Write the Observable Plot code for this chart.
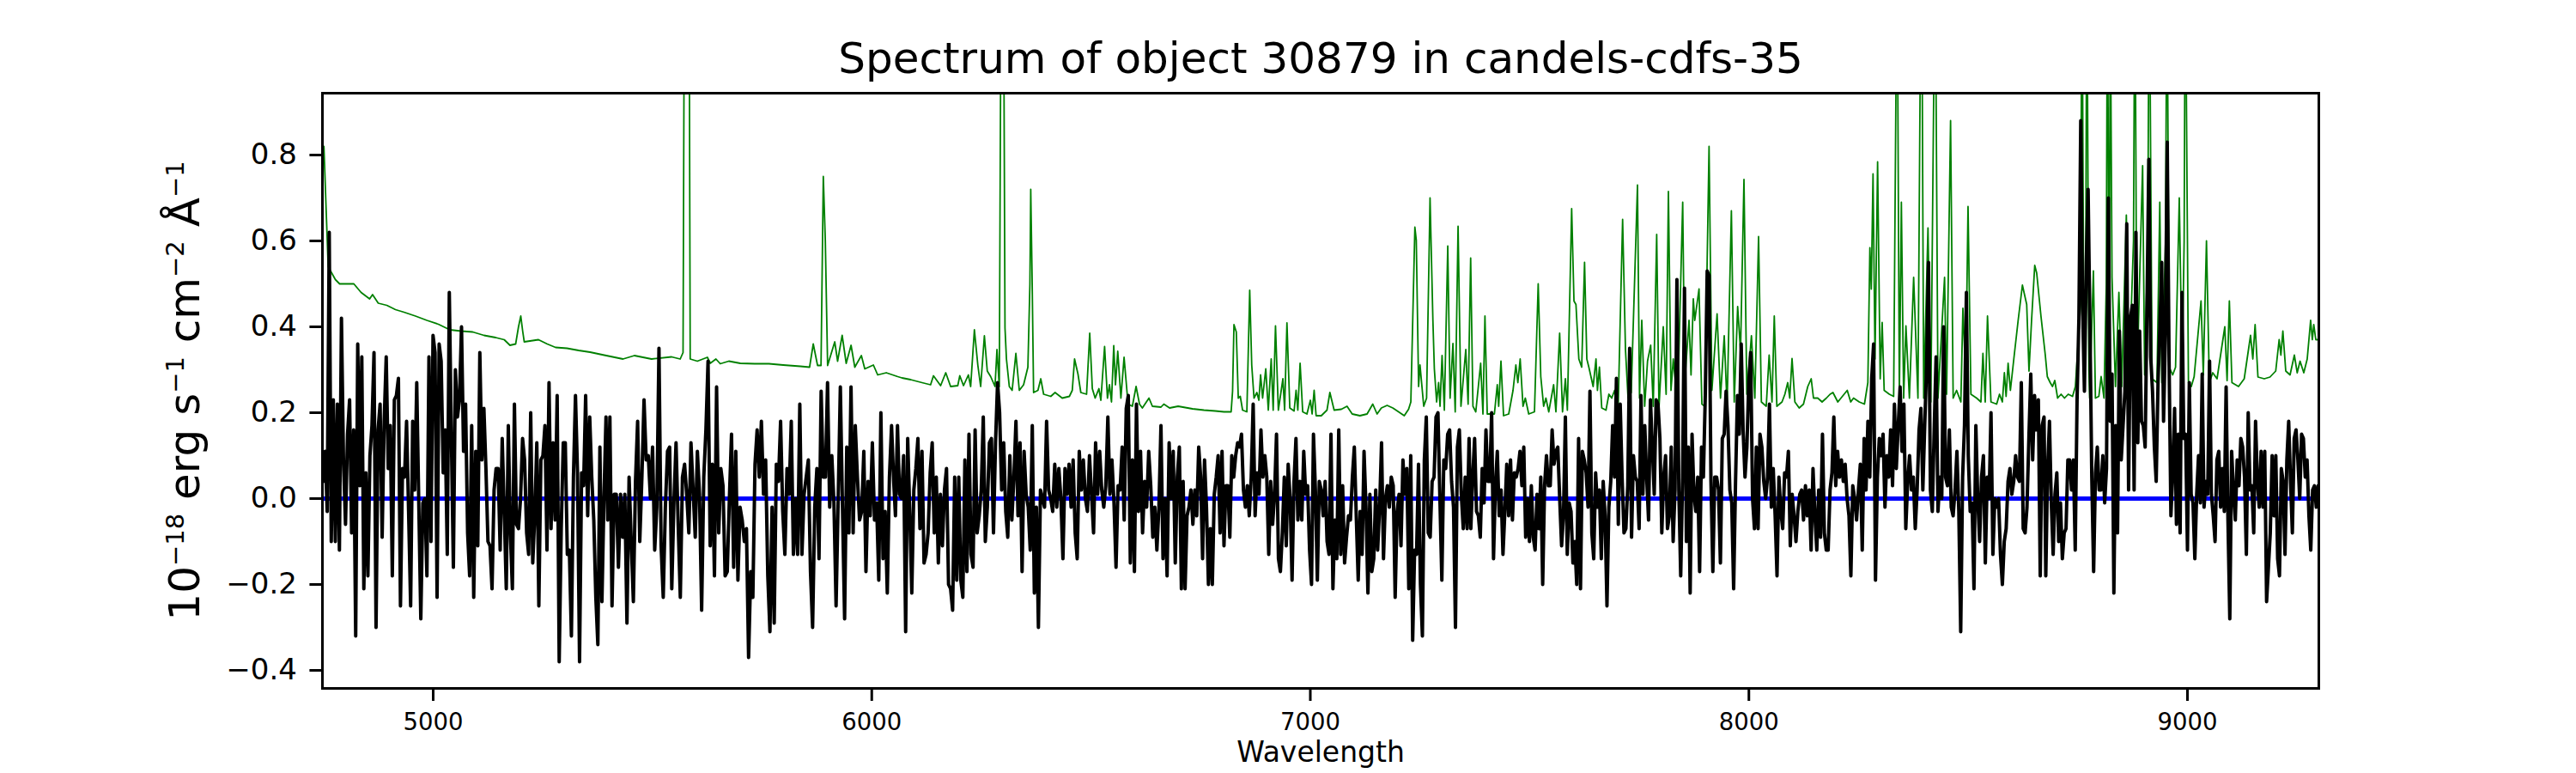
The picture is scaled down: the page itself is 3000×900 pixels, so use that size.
<!DOCTYPE html>
<html>
<head>
<meta charset="utf-8">
<script src="https://cdn.jsdelivr.net/npm/d3@7"></script>
<script src="https://cdn.jsdelivr.net/npm/@observablehq/plot@0.6"></script>
<style>
  html, body { margin: 0; padding: 0; background: white; }
  #chart { width: 3000px; height: 900px; }
</style>
</head>
<body>
<div id="chart"></div>
<script>
// ---------------- DATA ----------------
const titleText = "Spectrum of object 30879 in candels-cdfs-35";
const xLabelText = "Wavelength";
const xTicks = [5000, 6000, 7000, 8000, 9000];
const yTicks = [-0.4, -0.2, 0, 0.2, 0.4, 0.6, 0.8];

// Observed flux (black), in consecutive wavelength segments, evenly sampled within each
const segStart = [4749, 5398, 6054, 6710, 7366, 8021, 8677];
const segEnd   = [5394, 6050, 6706, 7362, 8017, 8673, 9298];

const fluxA = [0.04,0.11,-0.03,0.62,-0.10,0.23,-0.10,0.22,-0.12,0.42,
0.09,-0.06,0.15,0.23,-0.08,0.16,-0.32,0.36,0.03,0.33,
-0.21,0.06,-0.18,0.10,0.17,0.34,-0.30,0.16,0.22,-0.09,
0.18,0.33,0.07,0.17,-0.18,0.23,0.24,0.28,-0.25,0.07,
0.05,0.18,-0.03,-0.25,0.18,0.02,0.27,-0.01,-0.28,-0.01,
0.00,-0.18,0.33,-0.10,0.38,0.34,-0.23,0.36,0.32,0.06,
0.16,-0.13,0.48,0.15,-0.16,0.30,0.19,0.23,0.40,0.11,
0.22,-0.08,-0.18,0.17,-0.23,0.11,-0.11,0.34,0.09,0.21,
0.07,-0.10,-0.11,-0.21,0.02,0.07,0.07,-0.12,0.14,-0.03,
-0.21,0.17,-0.08,-0.21,0.22,-0.06,-0.07,0.00,0.14,0.09,
-0.08,-0.13,0.20,-0.15,-0.04,0.13,-0.25,0.09,0.10,0.17,
-0.12,0.27,-0.07,0.13,-0.05,0.24,-0.38,-0.07,0.13,0.13,
-0.13,-0.12,-0.32,0.05,0.24,0.06,-0.38,0.06,0.03,0.24,
-0.04,0.19,0.05,-0.05,-0.23,-0.34,0.12,-0.24,0.00,0.19];

const fluxB = [-0.05,0.19,-0.25,0.01,0.01,-0.16,0.01,-0.09,0.01,-0.29,
0.05,-0.10,-0.24,0.04,0.18,-0.10,0.05,0.23,0.09,0.10,
0.00,0.12,-0.12,-0.02,0.35,-0.11,-0.23,-0.02,0.11,0.12,
-0.21,-0.01,0.13,-0.06,-0.23,0.05,0.08,0.01,-0.08,0.13,
0.02,-0.09,0.11,0.01,-0.26,0.05,0.16,0.32,-0.11,0.08,
-0.18,0.26,-0.08,0.07,0.03,-0.18,-0.17,0.00,0.15,-0.16,
0.11,-0.19,-0.02,-0.05,-0.10,-0.07,-0.37,-0.17,-0.23,0.08,
0.16,0.05,0.18,0.01,0.09,-0.18,-0.31,-0.02,-0.29,0.08,
0.04,0.18,-0.03,-0.13,0.07,0.01,0.18,-0.13,0.00,-0.13,
0.22,-0.13,0.01,0.05,0.09,-0.17,-0.30,-0.02,0.07,-0.14,
0.25,0.05,0.05,0.27,-0.02,0.10,-0.01,-0.25,0.00,0.26,
-0.02,-0.28,0.12,-0.08,0.26,-0.08,0.17,0.05,-0.05,-0.03,
0.11,-0.17,0.04,-0.04,0.13,-0.05,-0.01,-0.19,0.20,-0.14,
-0.03,-0.22,0.05,0.17,0.04];

const fluxC = [-0.04,0.17,0.01,0.00,0.10,-0.31,0.14,-0.03,-0.22,0.02,
0.07,0.14,-0.07,0.11,-0.15,-0.13,-0.08,0.06,0.13,-0.08,
0.05,-0.15,0.01,-0.11,0.02,0.07,-0.20,-0.21,-0.26,0.05,
-0.19,0.05,-0.19,-0.23,0.09,-0.17,0.15,-0.13,-0.16,0.16,
-0.08,-0.04,0.02,0.19,-0.10,-0.02,0.13,0.14,-0.08,0.13,
0.27,0.20,0.02,0.13,-0.03,-0.09,0.10,-0.05,0.05,0.18,
-0.04,0.13,-0.17,0.11,0.01,-0.02,-0.12,0.17,-0.22,-0.02,
-0.30,0.02,0.00,-0.02,0.18,0.02,0.00,-0.03,0.08,-0.02,
0.07,0.00,-0.14,0.07,0.01,0.08,-0.02,0.09,-0.08,-0.14,
0.11,0.02,0.09,0.00,-0.03,0.10,0.01,-0.08,0.13,0.01,
0.11,0.02,-0.02,0.03,0.19,0.01,0.09,-0.01,-0.16,0.03,
0.02,0.12,-0.05,0.21,0.24,-0.15,0.09,-0.17,0.22,-0.03,
0.11,-0.08,0.04,-0.02,0.11,0.03,-0.09,-0.02,-0.12,-0.02,
0.17,-0.14,0.00,-0.18,0.13,0.00,0.11,-0.15,0.05,0.12,
-0.21];

const fluxD = [0.04,-0.21,-0.04,-0.02,0.02,-0.06,0.02,-0.04,0.12,0.05,
-0.14,0.09,-0.02,-0.20,-0.07,-0.20,0.01,0.05,0.10,-0.08,
0.11,-0.11,0.03,0.03,-0.09,0.10,0.05,0.10,0.13,0.12,
0.15,0.02,-0.02,0.03,-0.04,0.05,0.22,-0.04,0.06,0.01,
0.16,0.05,0.10,0.05,-0.13,0.04,-0.06,0.01,0.15,-0.14,
-0.17,-0.08,0.05,-0.11,0.08,0.00,-0.19,0.04,0.14,-0.05,
0.04,-0.05,0.11,0.01,0.03,-0.12,-0.20,0.15,0.02,-0.19,
0.04,0.02,-0.04,0.04,-0.10,-0.13,0.15,-0.21,-0.05,-0.14,
0.16,-0.13,0.03,-0.15,-0.09,-0.04,-0.05,0.05,0.12,-0.04,
-0.19,-0.03,-0.13,0.11,-0.02,-0.22,0.01,-0.17,-0.14,0.02,
-0.12,-0.02,0.13,-0.14,0.00,0.03,-0.02,0.05,0.03,-0.23,
-0.03,0.01,-0.11,0.09,0.01,0.07,-0.21,0.10,-0.33,-0.12,
-0.13,0.08,-0.20,-0.32,0.09,0.19,-0.08,-0.09,0.04,0.05,
0.19,0.20,0.00,-0.19,0.09,0.07,0.15,0.16,0.04,-0.02,
-0.30,0.12,0.16,0.01,-0.07,0.05,-0.07,0.14];

const fluxE = [-0.07,0.05,0.14,-0.03,-0.04,-0.09,0.07,-0.01,0.16,0.04,
0.04,0.20,-0.14,0.03,0.11,-0.04,0.02,-0.13,-0.03,0.08,
-0.04,0.09,-0.05,0.06,0.05,0.07,0.11,0.03,0.12,-0.09,
0.00,-0.10,0.03,-0.09,-0.12,0.01,-0.07,0.05,-0.20,0.03,
0.10,0.03,0.03,0.16,0.08,0.11,0.12,0.00,-0.11,-0.04,
0.19,-0.13,-0.01,-0.03,-0.15,-0.10,-0.20,0.14,-0.21,0.11,
0.09,0.06,-0.02,0.25,-0.08,-0.14,0.06,-0.02,0.02,-0.14,
0.04,-0.04,-0.25,-0.02,0.04,0.17,0.05,0.28,-0.06,0.22,
0.05,-0.08,-0.07,0.03,0.35,-0.09,0.10,0.05,0.04,-0.07,
0.24,0.01,0.17,0.05,-0.05,0.23,0.12,0.01,0.23,0.22,
0.14,-0.08,0.05,0.10,-0.07,-0.04,0.12,-0.10,0.02,0.51,
0.02,-0.18,0.05,0.49,-0.10,0.12,-0.22,0.15,0.01,-0.03,
0.05,-0.17,0.12,0.05,0.24,0.53,0.52,0.04,-0.17,0.05,
0.05,0.02,-0.15,0.14,0.15,0.25,0.17,0.02,-0.01,-0.21,
0.04,0.24,0.15,0.36,0.16,0.05,0.12,0.27,0.34,0.00,
-0.07,0.12];

const fluxF = [-0.07,0.15,0.12,0.04,0.00,0.05,0.22,-0.02,0.07,-0.04,
-0.18,0.05,-0.03,-0.07,0.06,0.05,0.11,-0.11,0.01,-0.04,
-0.10,-0.03,0.01,0.02,-0.05,0.03,-0.04,0.02,-0.12,0.07,
-0.04,-0.12,0.02,-0.09,0.15,-0.08,-0.12,-0.12,0.02,0.06,
0.19,0.03,0.11,0.05,0.09,0.04,0.08,0.00,-0.04,-0.18,
0.03,0.00,-0.05,0.02,0.08,-0.12,0.14,0.02,0.18,0.05,
0.28,0.36,-0.19,0.05,0.14,0.10,0.15,-0.02,0.10,0.05,
0.16,0.03,0.22,0.07,0.17,0.26,0.11,0.22,-0.07,0.04,
0.10,0.02,0.05,-0.07,0.02,0.16,0.21,0.02,0.17,0.31,
0.55,0.02,-0.03,0.16,0.33,-0.03,0.05,0.00,0.40,0.05,
0.03,0.16,-0.02,-0.04,0.02,0.11,-0.03,-0.31,0.05,0.17,
0.48,0.10,-0.03,-0.01,-0.21,0.17,0.00,-0.10,0.05,0.10,
-0.15,0.05,0.00,0.20,-0.13,0.00,-0.02,0.00,-0.13,-0.20,
-0.10,-0.07,0.04,0.07,0.01,0.04,0.10,0.05,0.04,0.27,
-0.07,-0.08,-0.02,0.14,0.29,0.09,0.24,0.16,0.23,-0.18,
0.17,0.19];

const fluxG = [-0.18,0.07,0.18,-0.01,-0.13,0.01,0.06,-0.10,-0.01,-0.14,
-0.08,-0.07,0.09,0.09,0.02,0.09,-0.12,0.23,0.42,0.88,
0.45,0.25,0.55,0.72,0.40,0.05,-0.17,0.06,0.12,0.02,
0.02,0.10,-0.01,0.07,0.70,0.18,0.29,-0.22,0.17,-0.08,
0.39,0.09,0.17,0.25,0.64,0.02,0.42,0.45,0.02,0.62,
0.13,0.39,0.18,0.17,0.12,0.45,0.79,0.33,0.25,0.12,
0.04,0.27,0.40,0.55,0.18,0.38,0.83,0.32,-0.04,0.06,
0.21,-0.06,0.15,-0.08,0.48,0.14,0.15,-0.12,0.27,0.01,
-0.01,-0.14,0.01,0.10,-0.01,0.29,-0.02,0.04,0.01,0.32,
0.01,-0.04,-0.10,0.09,0.11,-0.02,0.07,-0.03,0.26,-0.05,
-0.28,0.11,0.02,-0.05,0.09,0.03,0.14,0.12,0.05,-0.13,
0.20,0.02,0.03,-0.08,0.18,0.04,-0.02,0.11,-0.02,0.11,
-0.24,-0.16,-0.08,0.10,-0.04,0.10,-0.14,-0.18,0.07,0.04,
-0.13,0.09,0.18,0.04,-0.08,0.14,0.16,0.09,0.00,0.15,
0.14,0.05,0.09,-0.04,-0.12,0.02,0.03,-0.02,0.03];

// Sky / noise spectrum (green)
const skyWave = [4750.8,4760.5,4776.9,4786.6,4803,4819,4835.6,4855,4861.7,4874.7,4894.3,4914,4933.5,4959.6,4985.7,5011.8,5038,5064,5090,5116,5142.3,5161.9,5175,5188,5194.5,5199.7,5204,5207.6,5240,5260,5279,5305,5331.6,5357.7,5390,
5432.7,5458.8,5497.9,5543.6,5563.2,5569.7,5573.6,5578.2,5582.8,5586,5602.3,5625.2,5631.7,5644.7,5654.5,5674.1,5700.2,5732.9,5765.5,5798.1,5837.3,5858.2,5866.6,5876.4,5884.3,5889.5,5894.1,5899.3,5915.6,5922.1,5932.5,5941.7,5952.8,5961.3,5976.3,5984.1,6003.7,6013.5,6033.1,6059.2,
6068.9,6088.5,6114.6,6134.1,6140.7,6157,6168.7,6179.8,6196.1,6200.7,6209.2,6220.3,6225.5,6234,6241.8,6248.3,6256.8,6263.4,6271.2,6281,6285.5,6290.8,6294.7,6297.3,6300.6,6303.8,6307.1,6313.6,6320.1,6328.6,6336.4,6346.2,6356,6360.6,6362.5,6365.8,6369,6378.9,6385.4,6391.9,6408.2,6418,6434.3,6450.6,6457.2,6462.4,6470.2,6476.7,6489.8,6497,6502.9,6509.4,6517.9,6522.4,6530.9,6537.4,6542,6546.6,6551.8,6555.7,6560.9,6568.1,6575.3,6584.4,6594.2,6602.7,6610.5,6617,6632.1,6639.9,6659.5,6666,6679.1,6698.6,
6731.3,6757.4,6783.5,6803.1,6819.4,6822.7,6825.9,6831.2,6835.7,6840.3,6845.5,6855.3,6861.8,6866.4,6871.6,6878.1,6882.7,6886.6,6891.2,6898.4,6904.2,6910.8,6915.3,6920.6,6927.1,6937.5,6941.4,6946.7,6953.2,6963,6967.5,6971.5,6976.7,6982.6,6992.3,7000.2,7004.1,7008.7,7013.2,7025,7038,7044.6,7054.3,7070.7,7083.7,7095.5,7113.1,7129.4,7142.4,7152.2,7162,7175.1,7188.1,7201.2,7214.2,7224,7229.2,7238.4,7241.6,7246.9,7250.1,7258.6,7265.1,7273,7279.5,7282.8,7288,7292.5,7295.8,7300.4,7305.6,7313.4,7318.7,7325.2,7330.4,7336.9,7343.5,7354.5,7359.8,7365.6,
7370.8,7377.3,7388.4,7393.6,7398.2,7403.4,7419.7,7426.3,7429.5,7434.7,7440.6,7452.4,7462.2,7468.7,7473.2,7478.5,7485,7490.2,7498,7511.1,7519.6,7525.5,7532,7537.2,7543.7,7554.8,7560,7568.5,7575.1,7581.6,7586.1,7595.9,7601.2,7605.7,7612.3,7618.8,7625.3,7630.5,7635.1,7644.9,7651.4,7654.7,7659.2,7664.5,7674.2,7680.8,7687.3,7693.8,7701.7,7712.1,7718.6,7724.5,7731.7,7746,7750.6,7755.8,7762.4,7768.9,7776.1,7781.9,7789.8,7795,7804.8,7811.3,7816.5,7822.4,7827.6,7837.4,7849.1,7853.7,7863.5,7868.1,7873.3,7876.6,7886.3,7892.9,7899.4,7909.2,7915.7,7927.5,7935.3,7943.8,7950.3,7960.1,7966.6,7974.4,7981,7988.8,7995.3,8005.8,8013.6,8022.1,
8028.5,8039.6,8046.2,8052.7,8057.9,8063.8,8075.5,8082.1,8088.6,8093.2,8098.4,8104.9,8114.7,8124.5,8134.3,8142.1,8147.3,8157.1,8166.9,8176.7,8185.2,8191.7,8202.8,8224.3,8232.2,8238.7,8251.7,8263.5,8271.3,8275.9,8279.1,8283.1,8287.6,8293.5,8299.4,8303.9,8308.5,8320.3,8330.1,8337.9,8343.1,8347.7,8352.9,8358.1,8366,8375.7,8385.5,8393.4,8398.6,8408.4,8414.9,8424.7,8431.2,8446.2,8450.8,8459.9,8465.8,8473.6,8483.4,8488,8494.5,8499.7,8506.3,8519.3,8529.1,8533.7,8538.9,8544.1,8552,8565,8571.5,8578,8582.6,8586.5,8591.1,8596.3,8604.1,8614,8623.7,8633.5,8638.7,8644.6,8651.8,8656.3,8666.1,8675.9,
8680.5,8687.1,8692.3,8697.5,8704,8711.9,8719.7,8728.2,8738,8744.5,8756.2,8759.5,8764.1,8768,8770.6,8775.2,8777.1,8785.6,8790.2,8798,8803.2,8809.7,8815,8817.6,8821.5,8824.1,8828,8835.9,8843.7,8850.2,8860.7,8866.5,8877,8880.2,8884.8,8897.8,8902.4,8909.6,8912.9,8919.4,8930.5,8937,8941.6,8950.1,8953.3,8958.5,8966.4,8972.9,8981.4,8987.9,8992.5,8995.1,9002.3,9008.8,9015.3,9031,9036.2,9043.4,9049.9,9057.7,9067.5,9085.2,9090.4,9095.6,9101.5,9116.5,9129.5,9143.9,9149.1,9154.3,9160.8,9175.2,9188.2,9201.3,9209.1,9213.1,9217.6,9224.2,9234,9243.8,9250.3,9256.8,9265.3,9273.1,9280.9,9284.8,9288.1,9292.7,9297.9];

const skyFlux = [0.82,0.54,0.51,0.50,0.50,0.50,0.48,0.465,0.475,0.455,0.45,0.44,0.434,0.425,0.415,0.406,0.393,0.39,0.388,0.38,0.375,0.37,0.357,0.36,0.40,0.425,0.39,0.365,0.37,0.36,0.352,0.35,0.345,0.341,0.334,
0.325,0.333,0.325,0.33,0.325,0.34,1.5,1.8,1.5,0.325,0.32,0.329,0.315,0.325,0.314,0.32,0.315,0.314,0.314,0.311,0.308,0.306,0.36,0.31,0.31,0.75,0.60,0.31,0.365,0.32,0.38,0.315,0.357,0.306,0.333,0.302,0.311,0.288,0.293,0.284,
0.281,0.277,0.270,0.265,0.286,0.263,0.293,0.261,0.263,0.286,0.263,0.288,0.261,0.393,0.311,0.261,0.379,0.297,0.284,0.261,0.347,0.261,1.2,2.0,1.2,0.397,0.325,0.261,0.252,0.338,0.252,0.265,0.306,0.5,0.72,0.5,0.247,0.252,0.279,0.243,0.238,0.247,0.234,0.238,0.252,0.325,0.29,0.247,0.243,0.385,0.256,0.234,0.256,0.229,0.354,0.234,0.265,0.225,0.356,0.265,0.343,0.234,0.329,0.220,0.215,0.261,0.220,0.211,0.234,0.215,0.213,0.22,0.211,0.215,
0.209,0.206,0.204,0.202,0.202,0.25,0.405,0.388,0.234,0.238,0.206,0.202,0.485,0.311,0.234,0.247,0.229,0.288,0.234,0.302,0.206,0.325,0.206,0.402,0.206,0.279,0.206,0.409,0.211,0.204,0.252,0.206,0.315,0.202,0.197,0.229,0.197,0.252,0.193,0.193,0.206,0.247,0.206,0.208,0.215,0.197,0.193,0.197,0.220,0.197,0.211,0.217,0.211,0.202,0.193,0.208,0.225,0.632,0.602,0.261,0.311,0.215,0.234,0.70,0.415,0.302,0.225,0.27,0.215,0.333,0.206,0.588,0.234,0.361,0.202,0.634,0.215,0.347,0.22,0.56,
0.215,0.202,0.315,0.197,0.425,0.197,0.197,0.265,0.215,0.32,0.193,0.197,0.252,0.311,0.27,0.325,0.215,0.234,0.197,0.202,0.50,0.284,0.215,0.234,0.202,0.265,0.202,0.385,0.202,0.279,0.206,0.675,0.46,0.452,0.325,0.306,0.55,0.325,0.306,0.261,0.325,0.252,0.306,0.211,0.206,0.243,0.234,0.252,0.202,0.65,0.347,0.234,0.247,0.73,0.234,0.415,0.215,0.32,0.357,0.215,0.615,0.211,0.40,0.243,0.715,0.252,0.325,0.215,0.69,0.27,0.415,0.288,0.465,0.415,0.488,0.220,0.215,0.82,0.252,0.43,0.234,0.379,0.215,0.67,0.225,0.447,0.343,0.743,0.243,0.379,0.234,0.61,
0.225,0.215,0.334,0.225,0.425,0.215,0.225,0.243,0.27,0.234,0.326,0.225,0.211,0.22,0.261,0.279,0.234,0.234,0.225,0.234,0.243,0.247,0.225,0.252,0.225,0.234,0.225,0.220,0.27,0.584,0.488,0.756,0.325,0.784,0.279,0.41,0.252,0.243,0.238,1.3,0.238,0.69,0.234,0.402,0.234,0.515,0.234,1.4,0.234,0.63,0.225,1.3,0.234,0.515,0.243,0.88,0.234,0.252,0.225,0.443,0.28,0.68,0.243,0.234,0.225,0.338,0.225,0.425,0.225,0.220,0.243,0.225,0.293,0.238,0.315,0.252,0.325,0.415,0.497,0.452,0.297,0.415,0.543,0.525,0.424,0.334,
0.284,0.270,0.261,0.275,0.234,0.243,0.234,0.243,0.238,0.261,0.45,1.3,0.27,0.5,1.3,0.3,0.234,0.53,0.234,0.238,0.284,0.234,0.5,1.3,0.27,1.2,0.515,0.261,0.48,0.261,0.66,0.27,0.6,1.3,0.27,0.775,0.288,0.6,1.3,0.279,0.27,0.69,0.27,0.6,1.3,0.306,0.288,0.306,0.70,0.288,0.6,1.3,0.27,0.261,0.284,0.46,0.288,0.60,0.27,0.293,0.279,0.40,0.275,0.46,0.27,0.261,0.279,0.38,0.325,0.405,0.283,0.279,0.283,0.297,0.37,0.334,0.39,0.297,0.288,0.334,0.293,0.32,0.293,0.325,0.415,0.37,0.405,0.37,0.37];

// Model (blue)
const modelWave = [4749, 9298];
const modelFlux = [0, 0];

// ---------------- BUILD ----------------
const fluxSegments = [fluxA, fluxB, fluxC, fluxD, fluxE, fluxF, fluxG];
const spectrum = fluxSegments.flatMap((seg, s) =>
  seg.map((f, i) => ({w: segStart[s] + (segEnd[s] - segStart[s]) * i / (seg.length - 1), f}))
);
const sky = skyWave.map((w, i) => ({w, f: skyFlux[i]}));
const model = modelWave.map((w, i) => ({w, f: modelFlux[i]}));

const chart = Plot.plot({
  width: 3000,
  height: 900,
  marginLeft: 375,
  marginRight: 300,
  marginTop: 108,
  marginBottom: 99,
  style: {fontFamily: "DejaVu Sans", background: "white", color: "black"},
  x: {domain: [4747.4, 9299.6]},
  y: {domain: [-0.442, 0.944]},
  marks: [
    Plot.line(sky, {x: "w", y: "f", stroke: "#008000", strokeWidth: 1.8, clip: true}),
    Plot.line(model, {x: "w", y: "f", stroke: "#0000ff", strokeWidth: 5, clip: true}),
    Plot.line(spectrum, {x: "w", y: "f", stroke: "black", strokeWidth: 4, clip: true}),
    Plot.frame({stroke: "black", strokeWidth: 3}),
    Plot.axisX(xTicks, {fontSize: 27.5, tickSize: 15, tickPadding: 14, strokeWidth: 3, tickFormat: d => String(d), label: null}),
    Plot.axisY(yTicks, {fontSize: 34, tickSize: 14.6, tickPadding: 15, strokeWidth: 3, tickFormat: d3.format(".1f"), label: null}),
    Plot.text([titleText], {text: d => d, frameAnchor: "top", dy: -40, fontSize: 50, lineAnchor: "middle", fill: "black"}),
    Plot.text([xLabelText], {text: d => d, frameAnchor: "bottom", dy: 75, fontSize: 33, lineAnchor: "middle", fill: "black"})
  ]
});
document.getElementById("chart").appendChild(chart);

// y-axis label with superscripts
const parts = [["10", false], ["\u221218", true], [" erg s", false], ["\u22121", true], [" cm", false], ["\u22122", true], [" \u00C5", false], ["\u22121", true]];
const yl = d3.select(chart).append("text")
  .attr("transform", "translate(232,455) rotate(-90)")
  .attr("text-anchor", "middle")
  .attr("font-family", "DejaVu Sans")
  .attr("font-size", 50)
  .attr("fill", "black");
let raised = false;
parts.forEach(([t, sup]) => {
  const span = yl.append("tspan").text(t);
  if (sup && !raised) { span.attr("dy", -18).attr("font-size", 29); raised = true; }
  else if (sup && raised) { span.attr("font-size", 29); }
  else if (!sup && raised) { span.attr("dy", 18); raised = false; }
});
</script>
</body>
</html>
